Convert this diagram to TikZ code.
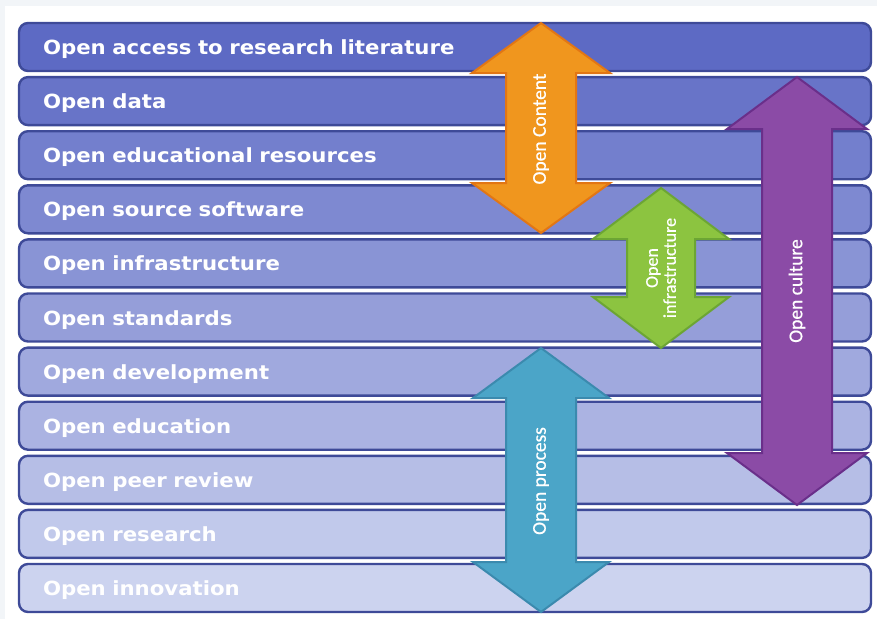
\documentclass[tikz,border=0pt]{standalone}
\usepackage{fontspec}
\newfontfamily\barfont[FakeStretch=1.09]{DejaVu Sans}
\newfontfamily\arrfont[FakeBold=0.6]{Carlito}
\definecolor{bartop}{RGB}{93,106,196}
\definecolor{barbot}{RGB}{204,211,239}
\definecolor{barline}{RGB}{62,74,152}
\definecolor{framegray}{RGB}{242,245,248}
\definecolor{orfill}{RGB}{240,150,30}
\definecolor{orline}{RGB}{226,118,20}
\definecolor{grfill}{RGB}{140,196,64}
\definecolor{grline}{RGB}{108,165,52}
\definecolor{pufill}{RGB}{139,75,166}
\definecolor{puline}{RGB}{106,47,138}
\definecolor{blfill}{RGB}{75,165,200}
\definecolor{blline}{RGB}{59,138,174}
\tikzset{
  bar/.style={draw=barline, line width=2.4pt, rounded corners=9pt,
    minimum width=852pt, minimum height=48pt, text width=804pt,
    text height=16pt, text depth=1pt,
    inner xsep=24pt, inner ysep=0pt, align=left, text=white,
    font=\barfont\bfseries\fontsize{19.5}{22}\selectfont},
  arrlabel/.style={rotate=90, text=white, inner sep=0pt, align=center,
    font=\arrfont\fontsize{19.5}{20}\selectfont},
}
% #1 cx, #2 top tip, #3 bottom tip, #4 head half width, #5 shaft half width, #6 head length, #7 style
\newcommand\dblarrowpath[7]{%
  \draw[#7, line width=2pt, line join=miter]
    (#1,#2) -- ({#1+#4},{#2+#6}) -- ({#1+#5},{#2+#6}) -- ({#1+#5},{#3-#6})
    -- ({#1+#4},{#3-#6}) -- (#1,#3) -- ({#1-#4},{#3-#6}) -- ({#1-#5},{#3-#6})
    -- ({#1-#5},{#2+#6}) -- ({#1-#4},{#2+#6}) -- cycle;}
\begin{document}
\begin{tikzpicture}[x=1pt,y=-1pt]
\useasboundingbox (0,0) rectangle (877,619);
\fill[white] (0,0) rectangle (877,619);
\fill[framegray] (0,0) rectangle (877,6);
\fill[framegray] (0,0) rectangle (5,619);
\foreach \i/\t in {0/Open access to research literature,1/Open data,2/Open educational resources,3/Open source software,4/Open infrastructure,5/Open standards,6/Open development,7/Open education,8/Open peer review,9/Open research,10/Open innovation}{
  \pgfmathsetmacro\yc{47+54.1*\i}
  \pgfmathtruncatemacro\pct{100-10*\i}
  \node[bar, fill=bartop!\pct!barbot] (b\i) at (445,\yc) {\t};
}
\dblarrowpath{541}{23}{233}{69}{35}{50}{fill=orfill, draw=orline}
\node[arrlabel] (content) at (541,129) {Open Content};
\dblarrowpath{661}{188}{348}{68}{34}{51}{fill=grfill, draw=grline}
\node[arrlabel, font=\arrfont\fontsize{18}{18}\selectfont] (infra) at (661,268) {Open\\infrastructure};
\dblarrowpath{797}{77}{505}{70}{35}{52}{fill=pufill, draw=puline}
\node[arrlabel] (culture) at (797,291) {Open culture};
\dblarrowpath{541}{348}{612}{68}{35}{50}{fill=blfill, draw=blline}
\node[arrlabel] (process) at (541,481) {Open process};
\end{tikzpicture}
\end{document}
